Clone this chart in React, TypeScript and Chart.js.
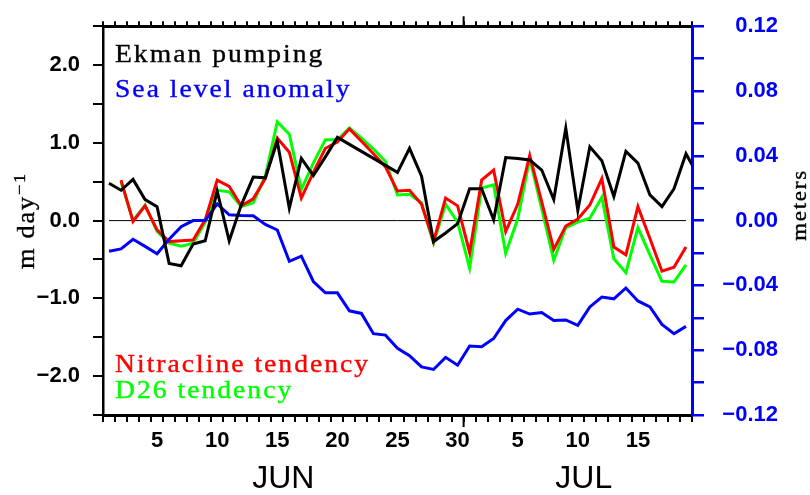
import { useEffect, useRef } from 'react';
import { Chart, registerables } from 'chart.js';

Chart.register(...registerables);

// Daily values, Jun 1 .. Jul 19 (Ekman has one extra day, clipped at the axis edge)
const ekmanPumping = [
  0.48, 0.39, 0.53, 0.27, 0.18, -0.55, -0.58, -0.3, -0.26, 0.38,
  -0.26, 0.2, 0.56, 0.55, 1.02, 0.16, 0.8, 0.58, 0.82, 1.07,
  0.98, 0.89, 0.8, 0.71, 0.62, 0.93, 0.57, -0.27, -0.16, -0.04,
  0.41, 0.41, 0.01, 0.81, 0.8, 0.78, 0.65, 0.27, 1.19, 0.13,
  0.95, 0.77, 0.31, 0.89, 0.74, 0.33, 0.18, 0.41, 0.86, 0.58,
];
const seaLevelAnomaly = [
  -0.0189, -0.0175, -0.0115, -0.0159, -0.0205, -0.0115, -0.0038, 0.0, 0.0, 0.0103,
  0.0036, 0.0032, 0.003, -0.0024, -0.0058, -0.0251, -0.0219, -0.0376, -0.0446, -0.0446,
  -0.0557, -0.0573, -0.0698, -0.0707, -0.0788, -0.0834, -0.0903, -0.0919, -0.0844, -0.0893,
  -0.0774, -0.0778, -0.0728, -0.0617, -0.0547, -0.0577, -0.0567, -0.0617, -0.0613, -0.0647,
  -0.0533, -0.0472, -0.0483, -0.0416, -0.0496, -0.0533, -0.0641, -0.0698, -0.0653,
];
const nitraclineTendency = [
  null, 0.52, -0.01, 0.19, -0.12, -0.27, -0.26, -0.25, 0.01, 0.52,
  0.44, 0.19, 0.28, 0.54, 1.06, 0.88, 0.29, 0.62, 0.93, 1.01,
  1.18, 1.02, 0.86, 0.69, 0.38, 0.39, 0.21, -0.27, 0.29, 0.19,
  -0.41, 0.52, 0.65, -0.14, 0.21, 0.84, 0.24, -0.37, -0.07, 0.02,
  0.2, 0.54, -0.34, -0.44, 0.18, -0.23, -0.65, -0.6, -0.34,
];
const d26Tendency = [
  null, 0.5, 0.0, 0.2, -0.14, -0.29, -0.33, -0.29, -0.02, 0.39,
  0.37, 0.18, 0.23, 0.57, 1.27, 1.11, 0.4, 0.74, 1.04, 1.04,
  1.19, 1.06, 0.92, 0.76, 0.33, 0.34, 0.23, -0.29, 0.21, -0.02,
  -0.61, 0.42, 0.46, -0.42, 0.02, 0.8, 0.15, -0.51, -0.09, -0.02,
  0.03, 0.3, -0.49, -0.67, -0.09, -0.44, -0.78, -0.79, -0.57,
];

const seriesNames = ['Ekman pumping', 'Sea level anomaly', 'Nitracline tendency', 'D26 tendency'];
const axisDays = 49; // Jun 1 .. Jul 19
const xTickDays = [5, 10, 15, 20, 25, 30, 35, 40, 45];
const xTickLabels = ['5', '10', '15', '20', '25', '30', '5', '10', '15'];
const monthNames = ['JUN', 'JUL'];
const monthCenters = [15, 40];
const monthBoundary = 30;
const leftTitle = 'm day';
const leftTitleSup = '\u22121';
const rightTitle = 'meters';

const SERIF = '"Liberation Serif"';

const toPoints = (arr: (number | null)[]) => arr.map((v, i) => ({ x: i + 0.5, y: v }));

const fmtSigned = (v: number, d: number) => (v < 0 ? '\u2212' : '') + Math.abs(v).toFixed(d);

function drawText(ctx: CanvasRenderingContext2D, t: string, x: number, y: number, color: string) {
  ctx.fillStyle = color;
  ctx.strokeStyle = color;
  ctx.lineWidth = 0.35;
  ctx.fillText(t, x, y);
  ctx.strokeText(t, x, y);
}

const overlayPlugin = {
  id: 'overlayTexts',
  afterDraw(chart: any) {
    const ctx = chart.ctx as any;
    const xs = chart.scales.x;
    const area = chart.chartArea;
    ctx.save();
    // longer month-boundary ticks
    const px = xs.getPixelForValue(monthBoundary);
    ctx.strokeStyle = '#000';
    ctx.lineWidth = 2;
    ctx.beginPath();
    ctx.moveTo(px, area.bottom);
    ctx.lineTo(px, area.bottom + 12);
    ctx.moveTo(px, area.top);
    ctx.lineTo(px, area.top - 10);
    ctx.stroke();

    // legend texts
    const legendColors = ['#000000', '#0000ff', '#ff0000', '#00ff00'];
    const legendBase = [area.top + 36, area.top + 71, area.bottom - 43, area.bottom - 17];
    ctx.font = `24px ${SERIF}`;
    ctx.textAlign = 'left';
    ctx.textBaseline = 'alphabetic';
    seriesNames.forEach((t, i) => {
      ctx.save();
      ctx.translate(area.left + 12, legendBase[i]);
      ctx.scale(1.15, 1.05);
      ctx.letterSpacing = '1.75px';
      drawText(ctx, t, 0, 0, legendColors[i]);
      ctx.restore();
    });

    // month labels
    ctx.letterSpacing = '0px';
    ctx.font = '32px "Liberation Sans"';
    ctx.textAlign = 'center';
    ctx.fillStyle = '#000';
    monthNames.forEach((m, i) => {
      ctx.fillText(m, xs.getPixelForValue(monthCenters[i]), 488);
    });

    // left axis title
    ctx.save();
    ctx.translate(34, (area.top + area.bottom) / 2);
    ctx.rotate(-Math.PI / 2);
    ctx.scale(1.15, 1.05);
    ctx.letterSpacing = '1.5px';
    ctx.font = `23px ${SERIF}`;
    const w1 = ctx.measureText(leftTitle).width;
    ctx.font = `16px ${SERIF}`;
    const w2 = ctx.measureText(leftTitleSup).width;
    const start = -(w1 + w2) / 2;
    ctx.textAlign = 'left';
    ctx.font = `23px ${SERIF}`;
    drawText(ctx, leftTitle, start, 0, '#000');
    ctx.font = `16px ${SERIF}`;
    drawText(ctx, leftTitleSup, start + w1, -9, '#000');
    ctx.restore();

    // right axis title
    ctx.save();
    ctx.translate(806, 205);
    ctx.rotate(-Math.PI / 2);
    ctx.scale(1.15, 1.05);
    ctx.letterSpacing = '1.5px';
    ctx.font = `20px ${SERIF}`;
    ctx.textAlign = 'center';
    drawText(ctx, rightTitle, 0, 0, '#000');
    ctx.restore();

    ctx.restore();
  },
};

export default function App() {
  const canvasRef = useRef<HTMLCanvasElement | null>(null);

  useEffect(() => {
    const canvas = canvasRef.current;
    if (!canvas) return;
    const dayBounds = Array.from({ length: axisDays + 1 }, (_, i) => i);
    const labelPos = xTickDays.map((d) => d - 0.5);
    const labelMap = new Map<number, string>();
    labelPos.forEach((p, i) => labelMap.set(p, xTickLabels[i]));
    const bottomTicks = [...dayBounds, ...labelPos].sort((a, b) => a - b);

    const chart = new Chart(canvas, {
      type: 'line',
      data: {
        datasets: [
          {
            label: seriesNames[0],
            data: toPoints(ekmanPumping),
            borderColor: '#000000',
            borderWidth: 3,
            yAxisID: 'y',
            order: 1,
          },
          {
            label: seriesNames[1],
            data: toPoints(seaLevelAnomaly),
            borderColor: '#0000ff',
            borderWidth: 3,
            yAxisID: 'y2',
            order: 2,
          },
          {
            label: seriesNames[2],
            data: toPoints(nitraclineTendency),
            borderColor: '#ff0000',
            borderWidth: 3,
            yAxisID: 'y',
            order: 3,
          },
          {
            label: seriesNames[3],
            data: toPoints(d26Tendency),
            borderColor: '#00ff00',
            borderWidth: 3,
            yAxisID: 'y',
            order: 4,
          },
          {
            label: 'zero',
            data: [
              { x: 0.5, y: 0 },
              { x: seaLevelAnomaly.length - 0.5, y: 0 },
            ],
            borderColor: '#000000',
            borderWidth: 1,
            yAxisID: 'y',
            order: 5,
          },
        ],
      },
      options: {
        responsive: false,
        animation: false,
        layout: { padding: { left: 0, right: 32, top: 0, bottom: 0 } },
        plugins: { legend: { display: false }, tooltip: { enabled: false } },
        elements: { point: { radius: 0 }, line: { tension: 0, borderCapStyle: 'butt', borderJoinStyle: 'miter' } },
        scales: {
          x: {
            type: 'linear',
            position: 'bottom',
            min: 0,
            max: axisDays,
            afterBuildTicks: (s: any) => {
              s.ticks = bottomTicks.map((v) => ({ value: v }));
            },
            afterFit: (s: any) => {
              s.height = 80;
            },
            grid: {
              drawOnChartArea: false,
              tickLength: 7,
              lineWidth: 2,
              tickColor: (c: any) => (c.tick && Number.isInteger(c.tick.value) ? '#000' : 'rgba(0,0,0,0)'),
            },
            border: { color: '#000', width: 3 },
            ticks: {
              autoSkip: false,
              maxRotation: 0,
              minRotation: 0,
              padding: 6,
              color: '#000',
              font: { family: '"Liberation Sans"', size: 22, weight: 'bold' },
              callback: (v: any) => labelMap.get(Number(v)) ?? '',
            },
          },
          xTop: {
            type: 'linear',
            position: 'top',
            min: 0,
            max: axisDays,
            afterBuildTicks: (s: any) => {
              s.ticks = dayBounds.map((v) => ({ value: v }));
            },
            afterFit: (s: any) => {
              s.height = 17;
            },
            grid: { drawOnChartArea: false, tickLength: 5, lineWidth: 2, color: '#000' },
            border: { color: '#000', width: 3 },
            ticks: { display: false, autoSkip: false },
          },
          y: {
            type: 'linear',
            position: 'left',
            min: -2.5,
            max: 2.5,
            afterFit: (s: any) => {
              s.width = 103;
            },
            grid: { drawOnChartArea: false, tickLength: 10, lineWidth: 2, color: '#000' },
            border: { color: '#000', width: 2.5 },
            ticks: {
              stepSize: 0.5,
              autoSkip: false,
              padding: 13,
              color: '#000',
              font: { family: '"Liberation Sans"', size: 22, weight: 'bold' },
              callback: (v: any) => {
                const n = Number(v);
                return Math.abs(n - Math.round(n)) < 1e-6 ? fmtSigned(Math.round(n), 1) : '';
              },
            },
          },
          y2: {
            type: 'linear',
            position: 'right',
            min: -0.12,
            max: 0.12,
            afterFit: (s: any) => {
              s.width = 86;
            },
            grid: { drawOnChartArea: false, tickLength: 12, lineWidth: 2.5, color: '#0000ff' },
            border: { color: '#0000ff', width: 3 },
            ticks: {
              stepSize: 0.02,
              autoSkip: false,
              crossAlign: 'far',
              color: '#0000ff',
              font: { family: '"Liberation Sans"', size: 22, weight: 'bold' },
              callback: (v: any) => {
                const r = Math.round(Number(v) * 100);
                return r % 4 === 0 ? fmtSigned(r / 100, 2) : '';
              },
            },
          },
        },
      } as any,
      plugins: [overlayPlugin],
    });
    return () => chart.destroy();
  }, []);

  return (
    <div style={{ position: 'fixed', left: 0, top: 0, width: 810, height: 495, background: '#fff' }}>
      <canvas ref={canvasRef} width={810} height={495} style={{ display: 'block' }} />
    </div>
  );
}
